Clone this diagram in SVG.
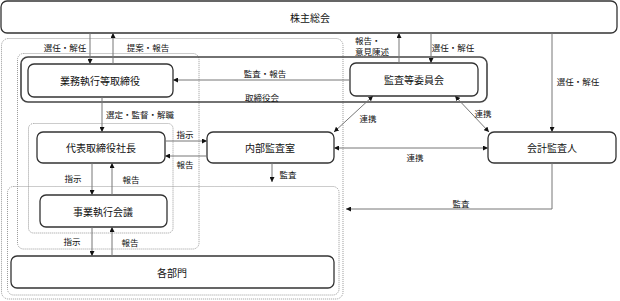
<svg xmlns="http://www.w3.org/2000/svg" width="620" height="301" viewBox="0 0 620 301">
<style>
.node{fill:#fff;stroke:#333;stroke-width:1.3}
.grp{fill:none;stroke:#999;stroke-width:1;stroke-dasharray:1 1}
.bd{fill:none;stroke:#444;stroke-width:1.6}
.t{font-family:"Noto Sans CJK JP","Noto Sans CJK SC",sans-serif;font-size:10px;fill:#111;text-anchor:middle;dominant-baseline:central}
.l{font-family:"Noto Sans CJK JP","Noto Sans CJK SC",sans-serif;font-size:8.5px;fill:#111;text-anchor:middle;dominant-baseline:central}
.c{fill:none;stroke:#777;stroke-width:1}
</style>
<defs>
<marker id="ah" viewBox="0 0 6 6" refX="6" refY="3" markerWidth="5" markerHeight="5" orient="auto-start-reverse" markerUnits="userSpaceOnUse">
<path d="M0,0 L6,3 L0,6 z" fill="#111"/>
</marker>
</defs>
<rect width="620" height="301" fill="#fff"/>
<g id="groups">
<rect class="grp" x="1.5" y="38.5" width="341.5" height="260.5" rx="7"/>
<rect class="grp" x="17.5" y="53.5" width="181.5" height="195.5" rx="6"/>
<rect class="grp" x="28.5" y="123.5" width="144.5" height="109.5" rx="5"/>
<rect class="grp" x="7.5" y="186.5" width="331.5" height="108.5" rx="6"/>
</g>
<g id="board">
<rect class="bd" x="21" y="57" width="466" height="45" rx="7"/>
<text class="l" x="262" y="97">取締役会</text>
</g>
<g id="n-shareholders">
<rect class="node" x="1" y="1" width="616" height="32" rx="6"/>
<text class="t" x="310" y="17">株主総会</text>
</g>
<g id="n-exec">
<rect class="node" x="28" y="64" width="145" height="33" rx="6"/>
<text class="t" x="100" y="80.5">業務執行等取締役</text>
</g>
<g id="n-audit-committee">
<rect class="node" x="350" y="63" width="128" height="33" rx="6"/>
<text class="t" x="414" y="79.5">監査等委員会</text>
</g>
<g id="n-president">
<rect class="node" x="37" y="132" width="128" height="31" rx="6"/>
<text class="t" x="101" y="147.5">代表取締役社長</text>
</g>
<g id="n-internal-audit">
<rect class="node" x="207" y="132" width="127" height="31" rx="6"/>
<text class="t" x="270" y="147.5">内部監査室</text>
</g>
<g id="n-accounting-auditor">
<rect class="node" x="488" y="132" width="128" height="31" rx="6"/>
<text class="t" x="552" y="147.5">会計監査人</text>
</g>
<g id="n-exec-meeting">
<rect class="node" x="40" y="195" width="127" height="32" rx="6"/>
<text class="t" x="103" y="211">事業執行会議</text>
</g>
<g id="n-departments">
<rect class="node" x="11" y="256" width="323" height="32" rx="6"/>
<text class="t" x="172" y="272">各部門</text>
</g>
<g id="connectors">
<line class="c" x1="90" y1="33" x2="90" y2="64" marker-end="url(#ah)"/>
<line class="c" x1="113" y1="64" x2="113" y2="33" marker-end="url(#ah)"/>
<line class="c" x1="399" y1="63" x2="399" y2="33" marker-end="url(#ah)"/>
<line class="c" x1="431" y1="33" x2="431" y2="63" marker-end="url(#ah)"/>
<line class="c" x1="552" y1="33" x2="552" y2="132" marker-end="url(#ah)"/>
<line class="c" x1="350" y1="80" x2="173" y2="80" marker-end="url(#ah)"/>
<line class="c" x1="102" y1="97" x2="102" y2="132" marker-end="url(#ah)"/>
<line class="c" x1="165" y1="141" x2="207" y2="141" marker-end="url(#ah)"/>
<line class="c" x1="207" y1="156" x2="165" y2="156" marker-end="url(#ah)"/>
<line class="c" x1="272" y1="163" x2="272" y2="182" marker-end="url(#ah)"/>
<line class="c" x1="92" y1="163" x2="92" y2="195" marker-end="url(#ah)"/>
<line class="c" x1="112" y1="195" x2="112" y2="163" marker-end="url(#ah)"/>
<line class="c" x1="92" y1="227" x2="92" y2="256" marker-end="url(#ah)"/>
<line class="c" x1="112" y1="256" x2="112" y2="227" marker-end="url(#ah)"/>
<line class="c" x1="373" y1="96" x2="334" y2="132" marker-start="url(#ah)" marker-end="url(#ah)"/>
<line class="c" x1="455" y1="96" x2="489" y2="132" marker-start="url(#ah)" marker-end="url(#ah)"/>
<line class="c" x1="334" y1="148" x2="488" y2="148" marker-start="url(#ah)" marker-end="url(#ah)"/>
<polyline class="c" points="552,163 552,209 346,209" marker-end="url(#ah)"/>
</g>
<g id="labels">
<text class="l" x="65" y="47">選任・解任</text>
<text class="l" x="148" y="47">提案・報告</text>
<text class="l" x="355" y="40" style="text-anchor:start">報告・</text>
<text class="l" x="355" y="51" style="text-anchor:start">意見陳述</text>
<text class="l" x="453" y="47">選任・解任</text>
<text class="l" x="578" y="81">選任・解任</text>
<text class="l" x="265" y="73">監査・報告</text>
<text class="l" x="140" y="114">選定・監督・解職</text>
<text class="l" x="185" y="134">指示</text>
<text class="l" x="185" y="164">報告</text>
<text class="l" x="288" y="174">監査</text>
<text class="l" x="73" y="178">指示</text>
<text class="l" x="131" y="179">報告</text>
<text class="l" x="72" y="241">指示</text>
<text class="l" x="130" y="242">報告</text>
<text class="l" x="368" y="118">連携</text>
<text class="l" x="483" y="113">連携</text>
<text class="l" x="415" y="157">連携</text>
<text class="l" x="461" y="203">監査</text>
</g>
</svg>
